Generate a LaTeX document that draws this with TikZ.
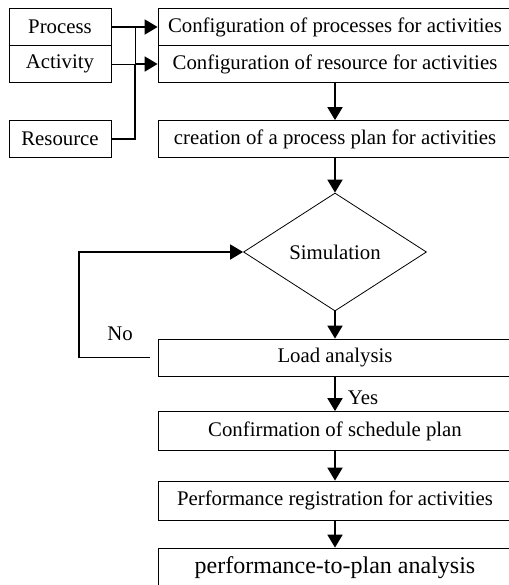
\documentclass[tikz,border=0pt]{standalone}
\usepackage{fontspec}
\setmainfont{Liberation Serif}
\usetikzlibrary{arrows.meta,shapes.geometric}

\begin{document}
\begin{tikzpicture}[x=0.5pt,y=-0.5pt,
	box/.style={draw,line width=0.4pt,minimum height=18.5pt,inner sep=0pt,font=\fontsize{10.4}{12}\selectfont},
	inbox/.style={box,minimum width=51pt},
	stepbox/.style={box,minimum width=177pt},
	conn/.style={line width=0.9pt,-{Triangle[length=6.5pt,width=7.5pt]}}] % 1px = 0.5pt
					\path[use as bounding box,clip] (0,0) rectangle (509,585);
					\node[inbox] (proc) at (60,27) {Process};
					\node[inbox] (act) at (60,64) {Activity};
					\node[inbox] (res) at (60,139) {Resource};
					\node[stepbox] (cfgp) at (335,27) {Configuration of processes for activities};
					\node[stepbox] (cfgr) at (335,64) {Configuration of resource for activities};
					\node[stepbox] (plan) at (335,139) {creation of a process plan for activities};
					\node[draw,diamond,line width=0.4pt,minimum width=91.5pt,minimum height=59pt,inner sep=0pt,font=\fontsize{10.4}{12}\selectfont] (sim) at (335,252) {Simulation};
					\node[stepbox] (load) at (335,357.5) {Load analysis};
					\node[stepbox,minimum height=19.5pt] (conf) at (335,431) {Confirmation of schedule plan};
					\node[stepbox,minimum height=19.5pt] (perf) at (335,500.5) {Performance registration for activities};
					\node[stepbox,minimum height=20pt,font=\fontsize{12}{14}\selectfont] (anal) at (335,568) {performance-to-plan analysis};
					\coordinate (jp) at (135,27);
					\coordinate (ja) at (135,64);
					\coordinate (loopa) at (79,357.5);
					\coordinate (loopb) at (79,252);
					\draw[line width=0.4pt] (act.east) -- (ja) -- (jp);
					\draw[line width=0.9pt] (res.east) -| (ja);
					\draw[conn] (proc.east) -- (cfgp.west);
					\draw[conn] (ja) -- (cfgr.west);
					\draw[conn] (cfgr.south) -- (plan.north);
					\draw[conn] (plan.south) -- (sim.north);
					\draw[conn] (sim.south) -- (load.north);
					\draw[conn] (load.south) -- (conf.north) node[pos=0.62,right,inner sep=6pt,font=\fontsize{10.4}{12}\selectfont] (yes) {Yes};
					\draw[conn] (conf.south) -- (perf.north);
					\draw[conn] (perf.south) -- (anal.north);
					\draw[conn] ([xshift=-4pt]load.west) -- (loopa) -- (loopb) -- (sim.west);
					\node[font=\fontsize{10.4}{12}\selectfont] (no) at (120,334) {No};
				\end{tikzpicture}
\end{document}
